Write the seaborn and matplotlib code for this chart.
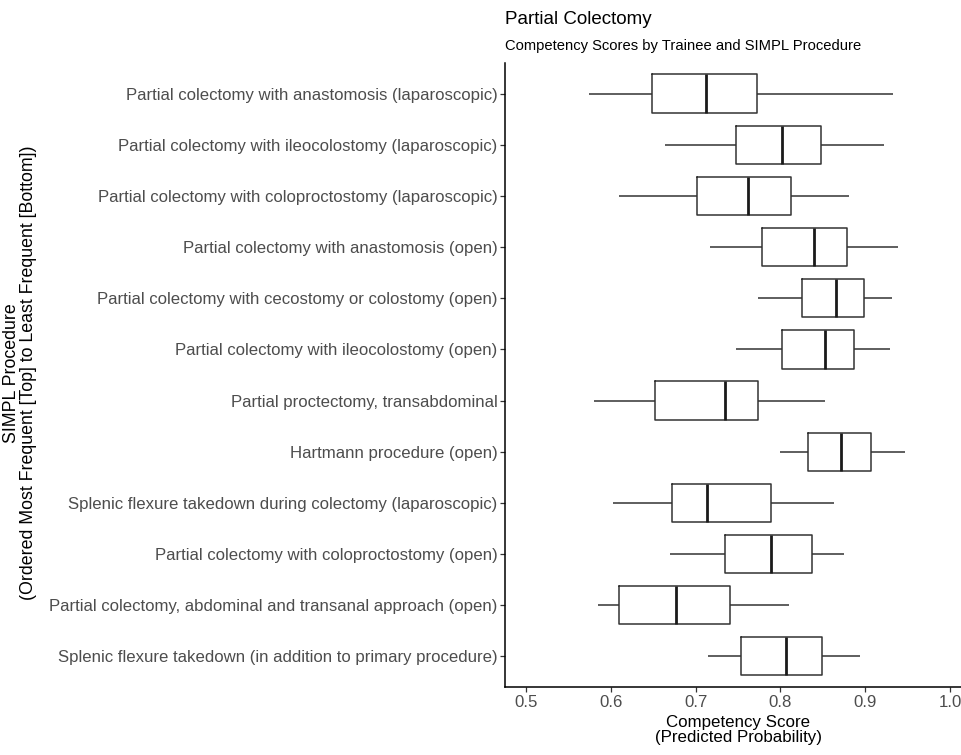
import numpy as np
import pandas as pd
import matplotlib
matplotlib.use("Agg")
import matplotlib.pyplot as plt
import seaborn as sns

# Procedures, ordered most frequent (top) to least frequent (bottom)
procedures = [
    "Partial colectomy with anastomosis (laparoscopic)",
    "Partial colectomy with ileocolostomy (laparoscopic)",
    "Partial colectomy with coloproctostomy (laparoscopic)",
    "Partial colectomy with anastomosis (open)",
    "Partial colectomy with cecostomy or colostomy (open)",
    "Partial colectomy with ileocolostomy (open)",
    "Partial proctectomy, transabdominal",
    "Hartmann procedure (open)",
    "Splenic flexure takedown during colectomy (laparoscopic)",
    "Partial colectomy with coloproctostomy (open)",
    "Partial colectomy, abdominal and transanal approach (open)",
    "Splenic flexure takedown (in addition to primary procedure)",
]

# five-number summaries
lo  = [0.574, 0.664, 0.610, 0.717, 0.773, 0.747, 0.580, 0.800, 0.602, 0.670, 0.585, 0.714]
q1  = [0.648, 0.748, 0.701, 0.778, 0.825, 0.802, 0.652, 0.833, 0.672, 0.734, 0.610, 0.754]
med = [0.712, 0.802, 0.762, 0.839, 0.865, 0.852, 0.735, 0.871, 0.713, 0.789, 0.677, 0.806]
q3  = [0.772, 0.848, 0.812, 0.879, 0.898, 0.887, 0.774, 0.907, 0.789, 0.837, 0.740, 0.849]
hi  = [0.933, 0.922, 0.881, 0.939, 0.931, 0.929, 0.853, 0.947, 0.863, 0.875, 0.810, 0.894]

x_ticks = [0.5, 0.6, 0.7, 0.8, 0.9, 1.0]

rows = []
for i, p in enumerate(procedures):
    for v in (lo[i], q1[i], med[i], q3[i], hi[i]):
        rows.append({"procedure": p, "score": v})
df = pd.DataFrame(rows)

sns.set_theme(style="ticks")
plt.rcParams["font.family"] = ["Liberation Sans", "DejaVu Sans"]

fig = plt.figure(figsize=(9.61, 7.55), dpi=100)
ax = fig.add_axes([0.5255, 0.0901, 0.4851, 0.8265])

sns.boxplot(data=df, x="score", y="procedure", order=procedures, orient="h",
            whis=(0, 100), width=0.75, fill=False, color="#333333",
            linewidth=1.1, medianprops={"linewidth": 2.0, "color": "#1a1a1a"},
            capprops={"linewidth": 0}, showfliers=False, ax=ax)

ax.set_xlim(0.475, 1.025)
ax.set_ylim(len(procedures) - 0.4, -0.6)
ax.set_xticks(x_ticks)
ax.set_xticklabels([f"{t:.1f}" for t in x_ticks])
sns.despine(ax=ax)
for s in ("left", "bottom"):
    ax.spines[s].set_linewidth(1.1)
    ax.spines[s].set_color("black")
ax.tick_params(axis="both", labelsize=12.1, labelcolor="#4d4d4d", color="#333333",
               length=3.5, width=0.9, pad=2)

ax.set_xlabel("Competency Score\n(Predicted Probability)", fontsize=12.2,
              color="black", labelpad=4, linespacing=1.0)
ax.set_ylabel("")
fig.text(20 / 961, 1 - 373 / 755,
         "SIMPL Procedure\n(Ordered Most Frequent [Top] to Least Frequent [Bottom])",
         fontsize=12.8, color="black", rotation=90, ha="center", va="center",
         multialignment="center", linespacing=0.95)

fig.text(505 / 961, 1 - 20 / 755, "Partial Colectomy", fontsize=13.5, color="black",
         ha="left", va="center")
fig.text(505 / 961, 1 - 46 / 755, "Competency Scores by Trainee and SIMPL Procedure",
         fontsize=10.6, color="black", ha="left", va="center")

fig.savefig("out.png", dpi=100)
